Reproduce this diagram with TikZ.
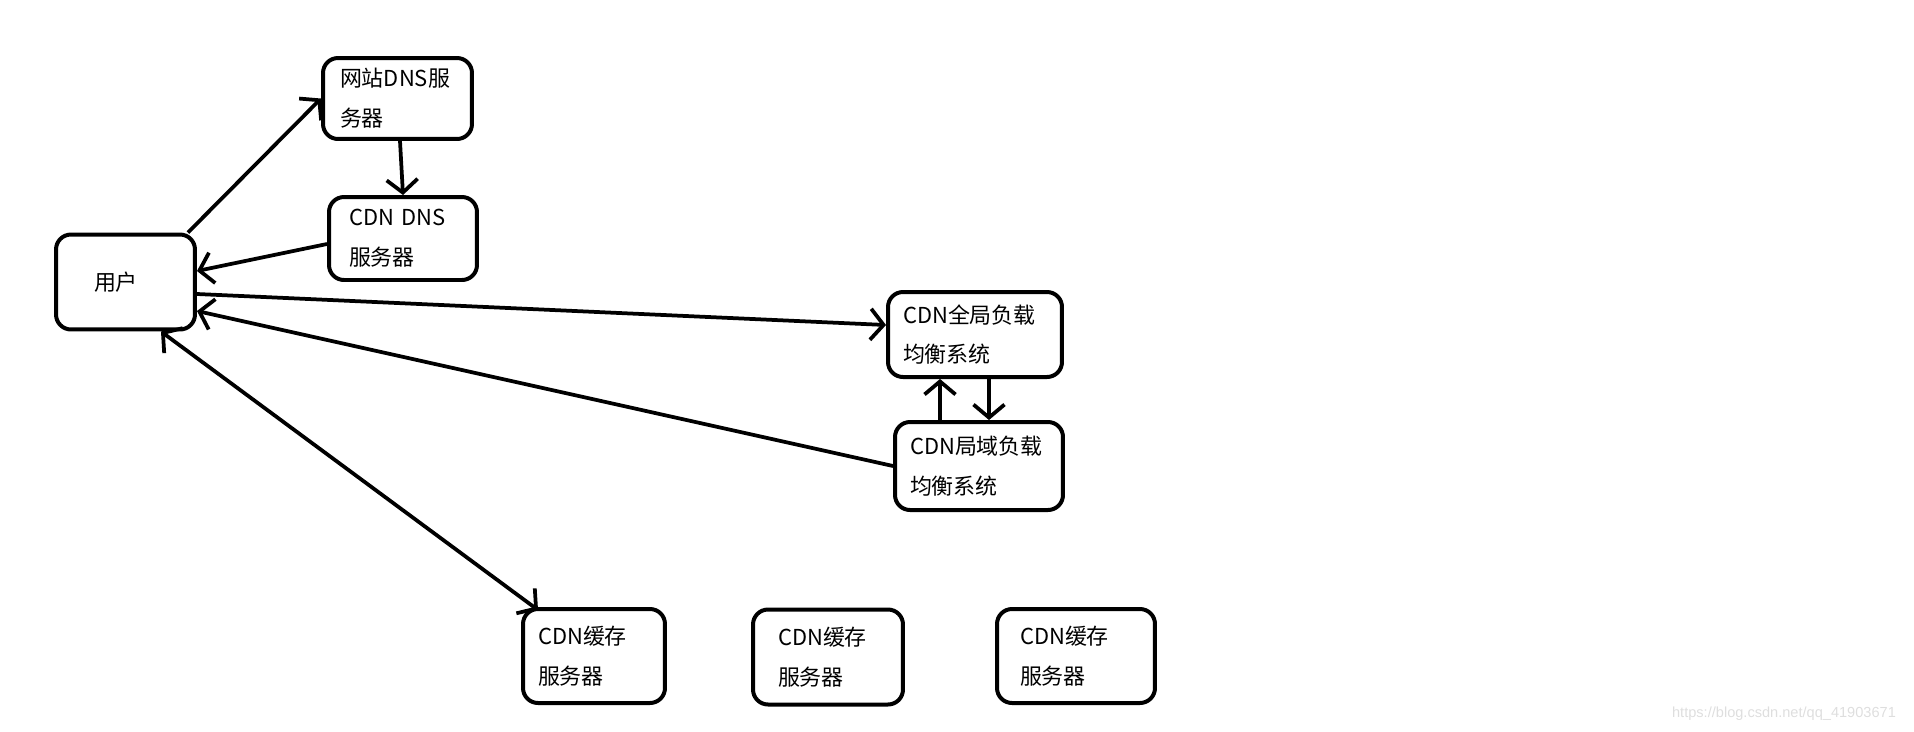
\documentclass[tikz,border=0pt]{standalone}
\usepackage{fontspec}
\newfontfamily\cjk{Noto Sans CJK SC}
\newfontfamily\marca{Liberation Sans}
\usetikzlibrary{arrows.meta}
\tikzset{
  caixa/.style={draw, line width=0.08cm, rounded corners=0.3cm, align=left,
    font=\cjk\fontsize{12.5}{22.7}\selectfont, inner ysep=0pt},
  seta/.style={line width=0.075cm}
}
\begin{document}
\begin{tikzpicture}[x=0.02cm, y=-0.02cm, >={Straight Barb[length=0.26cm,width=0.62cm]}]
    \useasboundingbox (0,0) rectangle (1914,731);

    % Caixas
    \node[caixa, text width=1.26cm, inner xsep=0.76cm, minimum height=1.9cm] (usuario) at (125.5,282) {用户};
    \node[caixa, text width=2.3cm, inner xsep=0.34cm, minimum height=1.62cm] (dnssite) at (397.5,98.5) {网站DNS服\\务器};
    \node[caixa, text width=2.16cm, inner xsep=0.4cm, minimum height=1.66cm] (dnscdn) at (403,238.5) {CDN DNS\\服务器};
    \node[caixa, text width=2.88cm, inner xsep=0.3cm, minimum height=1.7cm] (global) at (975,334.5) {CDN全局负载\\均衡系统};
    \node[caixa, text width=2.76cm, inner xsep=0.3cm, minimum height=1.76cm] (local) at (979,466) {CDN局域负载\\均衡系统};
    \node[caixa, text width=2.24cm, inner xsep=0.3cm, minimum height=1.88cm] (cache1) at (594,656) {CDN缓存\\服务器};
    \node[caixa, text width=2.0cm, inner xsep=0.5cm, minimum height=1.9cm] (cache2) at (828,657) {CDN缓存\\服务器};
    \node[caixa, text width=2.24cm, inner xsep=0.46cm, minimum height=1.88cm] (cache3) at (1076,656) {CDN缓存\\服务器};

    % Setas
    \draw[seta, ->] ([xshift=-0.18cm]usuario.north east) -- (dnssite.west);
    \draw[seta, ->] ([xshift=0.05cm]dnssite.south) -- (dnscdn.north);
    \draw[seta, ->] ([yshift=-0.11cm]dnscdn.west) -- ([yshift=0.22cm]usuario.east);
    \draw[seta, ->] ([yshift=-0.24cm]usuario.east) -- ([yshift=0.19cm]global.west);
    \draw[seta, ->] (local.west) -- ([yshift=-0.58cm]usuario.east);
    \draw[seta, <->] ([xshift=-0.72cm]usuario.south east) -- ([xshift=0.34cm,yshift=-0.06cm]cache1.north west);
    \draw[seta, ->] ([xshift=-0.78cm]local.north) -- ([xshift=-0.78cm]local.north |- global.south);
    \draw[seta, ->] ([xshift=0.28cm]global.south) -- ([xshift=0.28cm]global.south |- local.north);

    % Marca
    \node[black!13, font=\marca\fontsize{8.3}{10}\selectfont] (marca) at (1784,714) {https://blog.csdn.net/qq\_41903671};
\end{tikzpicture}
\end{document}
